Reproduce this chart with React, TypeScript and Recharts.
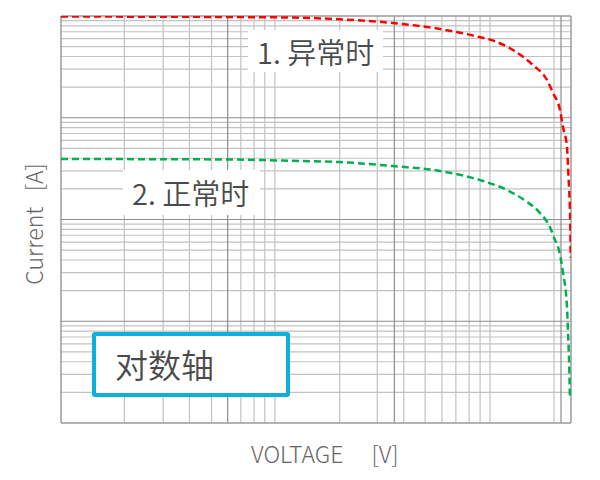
import { LineChart, Line, XAxis, YAxis, ReferenceLine } from 'recharts';

// log-log grid, no tick labels in the source image
const xGrid = [2.4, 4.1, 5.9, 8, 12, 14.4, 16.7, 19.2, 47, 79, 114, 153, 193, 234, 281, 327, 375, 908];
const xDecades = [10, 100, 1000];
const yGrid = [
  2, 3, 4, 5, 6, 7, 8, 9,
  20, 30, 40, 50, 60, 70, 80, 90,
  200, 300, 400, 500, 600, 700, 800, 900,
  2000, 3000, 4000, 5000, 6000, 7000, 8000, 9000,
];
const yDecades = [10, 100, 1000];
const xDomain = [1, 1148];
const yDomain = [1, 10000];

// 1. abnormal
const redVoltage = [1, 3.4, 10, 27, 47, 98, 188, 305, 413, 515, 679, 824, 896, 986, 1028, 1086, 1102, 1117, 1130, 1138, 1142];
const redCurrent = [9890, 9840, 9775, 9620, 9280, 8540, 7450, 6360, 5550, 4630, 3300, 2350, 1750, 1190, 811, 516, 328, 208, 133, 79, 42];

// 2. normal
const greenVoltage = [1, 10, 27, 47, 98, 188, 327, 474, 625, 748, 859, 920, 959, 1028, 1086, 1102, 1117, 1132];
const greenCurrent = [393, 389, 376, 367, 335, 300, 244, 195, 149, 116, 84, 63, 54, 30, 13.8, 7.7, 4.2, 1.7];

const redData = redVoltage.map((v, i) => ({ x: v, y: redCurrent[i] }));
const greenData = greenVoltage.map((v, i) => ({ x: v, y: greenCurrent[i] }));

const FONT = '"Noto Sans CJK SC", "Noto Sans", sans-serif';
const gridColor = '#c2c2c2';
const decadeColor = '#8c8c8c';
const borderColor = '#9a9a9a';

export default function App() {
  return (
    <div style={{ position: 'absolute', left: 0, top: 0, width: 600, height: 480, background: '#fff', fontFamily: FONT, fontWeight: 300 }}>
      <LineChart width={600} height={480} margin={{ top: 16, right: 29, bottom: 57, left: 61 }}>
        <XAxis dataKey="x" type="number" scale="log" domain={xDomain} hide allowDataOverflow />
        <YAxis dataKey="y" type="number" scale="log" domain={yDomain} hide allowDataOverflow />
        {xGrid.map((v) => (
          <ReferenceLine key={'xg' + v} x={v} stroke={gridColor} strokeWidth={1.2} />
        ))}
        {yGrid.map((v) => (
          <ReferenceLine key={'yg' + v} y={v} stroke={gridColor} strokeWidth={1.2} />
        ))}
        {xDecades.map((v) => (
          <ReferenceLine key={'xd' + v} x={v} stroke={decadeColor} strokeWidth={1.2} />
        ))}
        {yDecades.map((v) => (
          <ReferenceLine key={'yd' + v} y={v} stroke={decadeColor} strokeWidth={1.2} />
        ))}
        <ReferenceLine x={xDomain[0]} stroke={borderColor} strokeWidth={1.5} />
        <ReferenceLine x={xDomain[1]} stroke={borderColor} strokeWidth={1.5} />
        <ReferenceLine y={yDomain[0]} stroke={borderColor} strokeWidth={1.5} />
        <ReferenceLine y={yDomain[1]} stroke={borderColor} strokeWidth={1.5} />
        <Line data={greenData} dataKey="y" type="monotone" stroke="#00b04f" strokeWidth={2.5} strokeDasharray="7 4" dot={false} isAnimationActive={false} />
        <Line data={redData} dataKey="y" type="monotone" stroke="#ff0000" strokeWidth={2.5} strokeDasharray="7 4" dot={false} isAnimationActive={false} />
      </LineChart>

      {/* series labels */}
      <div style={{ position: 'absolute', left: 248, top: 30, width: 135, height: 42, background: '#fff', color: '#4a4a4a', fontSize: 29, fontWeight: 350, lineHeight: '42px', paddingLeft: 9, boxSizing: 'border-box', whiteSpace: 'nowrap' }}>
        1. 异常时
      </div>
      <div style={{ position: 'absolute', left: 123, top: 170, width: 137, height: 45, background: '#fff', color: '#4a4a4a', fontSize: 29, fontWeight: 350, lineHeight: '45px', paddingLeft: 9, boxSizing: 'border-box', whiteSpace: 'nowrap' }}>
        2. 正常时
      </div>

      {/* log axis tag */}
      <div style={{ position: 'absolute', left: 92, top: 332, width: 198, height: 65, border: '4px solid #0cb0da', borderRadius: 3, background: '#fff', boxSizing: 'border-box', color: '#4a4a4a', fontSize: 33, fontWeight: 350, lineHeight: '57px', paddingLeft: 19, whiteSpace: 'nowrap' }}>
        对数轴
      </div>

      {/* axis titles */}
      <div style={{ position: 'absolute', left: 33, top: 224, transform: 'translate(-50%, -50%) rotate(-90deg)', color: '#666', fontSize: 23, whiteSpace: 'pre' }}>
        {'Current   [A]'}
      </div>
      <div style={{ position: 'absolute', left: 251, top: 436, color: '#666', fontSize: 23, whiteSpace: 'pre' }}>
        {'VOLTAGE　 [V]'}
      </div>
    </div>
  );
}
